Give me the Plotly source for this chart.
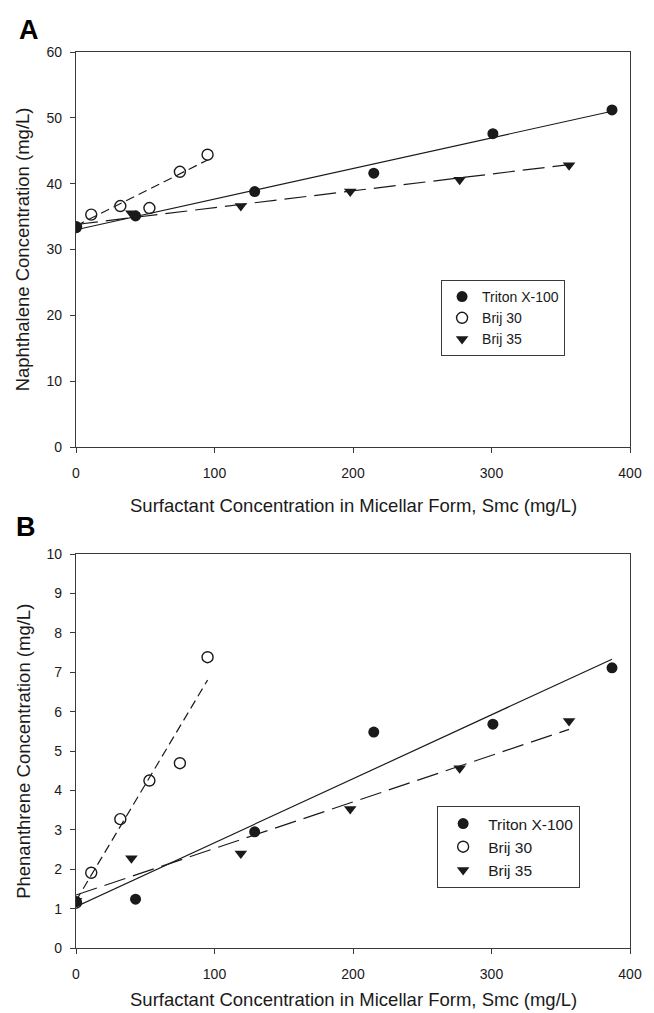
import plotly.graph_objects as go

# ---------------- data ----------------
series = ["Triton X-100", "Brij 30", "Brij 35"]

# Panel A: naphthalene
a_triton_x = [0, 43, 129, 215, 301, 387]
a_triton_y = [33.4, 35.1, 38.8, 41.6, 47.6, 51.2]
a_brij30_x = [0, 11, 32, 53, 75, 95]
a_brij30_y = [33.4, 35.3, 36.6, 36.3, 41.8, 44.4]
a_brij35_x = [0, 40, 119, 198, 277, 356]
a_brij35_y = [33.4, 35.5, 36.6, 38.8, 40.6, 42.8]
# fitted regression lines (end points)
a_triton_fit_x = [0, 387]
a_triton_fit_y = [33.0, 51.0]
a_brij30_fit_x = [0, 95]
a_brij30_fit_y = [33.6, 43.6]
a_brij35_fit_x = [0, 356]
a_brij35_fit_y = [33.8, 42.9]

# Panel B: phenanthrene
b_triton_x = [0, 43, 129, 215, 301, 387]
b_triton_y = [1.18, 1.24, 2.95, 5.48, 5.68, 7.11]
b_brij30_x = [0, 11, 32, 53, 75, 95]
b_brij30_y = [1.15, 1.91, 3.27, 4.25, 4.69, 7.38]
b_brij35_x = [0, 40, 119, 198, 277, 356]
b_brij35_y = [1.2, 2.28, 2.40, 3.53, 4.56, 5.76]
b_triton_fit_x = [0, 387]
b_triton_fit_y = [1.05, 7.33]
b_brij30_fit_x = [0, 95]
b_brij30_fit_y = [1.2, 6.80]
b_brij35_fit_x = [0, 356]
b_brij35_fit_y = [1.345, 5.55]

x_tickvals = [0, 100, 200, 300, 400]
a_tickvals = [0, 10, 20, 30, 40, 50, 60]
b_tickvals = list(range(0, 11))

x_title = "Surfactant Concentration in Micellar Form, Smc (mg/L)"
a_ytitle = "Naphthalene Concentration (mg/L)"
b_ytitle = "Phenanthrene Concentration (mg/L)"

# ---------------- styles ----------------
FONT = "Liberation Sans, Arial, sans-serif"
INK = "#1a1a1a"
AXC = "#3a3a3a"
MS = 11

marker_styles = {
    "Triton X-100": dict(symbol="circle", size=MS, color=INK, line=dict(width=0)),
    "Brij 30": dict(symbol="circle-open", size=MS, color=INK, line=dict(width=1.4)),
    "Brij 35": dict(symbol="triangle-down", size=MS, color=INK, line=dict(width=0)),
}
line_styles = {
    "Triton X-100": dict(color=INK, width=1.2, dash="solid"),
    "Brij 30": dict(color=INK, width=1.2, dash="9px,5px"),
    "Brij 35": dict(color=INK, width=1.2, dash="22px,8px"),
}

fig = go.Figure()

panels = [
    ("x", "y", "legend",
     [(a_triton_x, a_triton_y, a_triton_fit_x, a_triton_fit_y),
      (a_brij30_x, a_brij30_y, a_brij30_fit_x, a_brij30_fit_y),
      (a_brij35_x, a_brij35_y, a_brij35_fit_x, a_brij35_fit_y)]),
    ("x2", "y2", "legend2",
     [(b_triton_x, b_triton_y, b_triton_fit_x, b_triton_fit_y),
      (b_brij30_x, b_brij30_y, b_brij30_fit_x, b_brij30_fit_y),
      (b_brij35_x, b_brij35_y, b_brij35_fit_x, b_brij35_fit_y)]),
]

for xa, ya, leg, data in panels:
    for name, (px, py, fx, fy) in zip(series, data):
        fig.add_trace(go.Scatter(
            x=fx, y=fy, mode="lines", line=line_styles[name],
            xaxis=xa, yaxis=ya, showlegend=False, hoverinfo="skip"))
    for name, (px, py, fx, fy) in zip(series, data):
        fig.add_trace(go.Scatter(
            x=px, y=py, mode="markers", name=name, marker=marker_styles[name],
            xaxis=xa, yaxis=ya, legend=leg, showlegend=True))

L, R, T, B = 76, 15, 52, 65
W, H = 654, 1013
PH = H - T - B
PW = W - L - R


def py2paper(py):
    return (H - B - py) / PH


def px2paper(px):
    return (px - L) / PW


axis_common = dict(
    showline=True, linecolor=AXC, linewidth=1.4, mirror=True,
    ticks="outside", ticklen=5, tickwidth=1.2, tickcolor=AXC,
    showgrid=False, zeroline=False,
    tickfont=dict(family=FONT, size=14, color=INK),
)

legend_common = dict(
    bgcolor="white", bordercolor=AXC, borderwidth=1,
    xanchor="left", yanchor="top", traceorder="normal",
)

fig.update_layout(
    width=W, height=H,
    margin=dict(l=L, r=R, t=T, b=B),
    paper_bgcolor="white", plot_bgcolor="white",
    font=dict(family=FONT, color=INK),
    xaxis=dict(domain=[0, 1], range=[0, 400], tickvals=x_tickvals, anchor="y",
               ticklabelstandoff=8, **axis_common),
    yaxis=dict(domain=[py2paper(447), 1], range=[0, 60], tickvals=a_tickvals,
               anchor="x", ticklabelstandoff=5, **axis_common),
    xaxis2=dict(domain=[0, 1], range=[0, 400], tickvals=x_tickvals, anchor="y2",
                ticklabelstandoff=8, **axis_common),
    yaxis2=dict(domain=[0, py2paper(554)], range=[0, 10], tickvals=b_tickvals,
                anchor="x2", ticklabelstandoff=5, **axis_common),
    legend=dict(x=px2paper(447), y=py2paper(280),
                font=dict(family=FONT, size=14, color=INK), **legend_common),
    legend2=dict(x=px2paper(443), y=py2paper(806), itemwidth=40,
                 font=dict(family=FONT, size=15.5, color=INK), **legend_common),
    showlegend=True,
)

title_font = dict(family=FONT, size=18.5, color=INK)
annots = [
    dict(text=x_title, x=0.5, y=py2paper(505), xref="paper", yref="paper",
         xanchor="center", yanchor="middle", showarrow=False, font=title_font),
    dict(text=x_title, x=0.5, y=py2paper(1000), xref="paper", yref="paper",
         xanchor="center", yanchor="middle", showarrow=False, font=title_font),
    dict(text=a_ytitle, x=px2paper(22), y=py2paper(249.5), xref="paper", yref="paper",
         xanchor="center", yanchor="middle", textangle=-90, showarrow=False, font=title_font),
    dict(text=b_ytitle, x=px2paper(22), y=py2paper(751), xref="paper", yref="paper",
         xanchor="center", yanchor="middle", textangle=-90, showarrow=False, font=title_font),
    dict(text="<b>A</b>", x=px2paper(28), y=py2paper(30), xref="paper", yref="paper",
         xanchor="center", yanchor="middle", showarrow=False,
         font=dict(family=FONT, size=27, color="#000")),
    dict(text="<b>B</b>", x=px2paper(25), y=py2paper(527), xref="paper", yref="paper",
         xanchor="center", yanchor="middle", showarrow=False,
         font=dict(family=FONT, size=27, color="#000")),
]
fig.update_layout(annotations=annots)

fig.write_html("out.html")
